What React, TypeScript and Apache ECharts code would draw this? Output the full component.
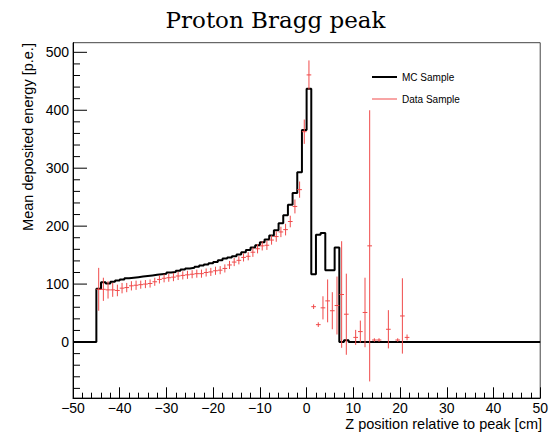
import React, { useEffect, useRef } from "react";
import * as echarts from "echarts";

// ---- axis ranges / tick labels ----
const X_MIN = -50;
const X_MAX = 50;
const Y_MIN = -96.6;
const Y_MAX = 516.6;
const yTickValues = [
  -80, -60, -40, -20, 0, 20, 40, 60, 80, 100, 120, 140, 160, 180, 200, 220, 240, 260, 280, 300,
  320, 340, 360, 380, 400, 420, 440, 460, 480, 500,
];
const yMajorLabels = [0, 100, 200, 300, 400, 500];

// ---- MC histogram: 1 cm bins from -50 to 50 ----
const mcValues = [
  0, 0, 0, 0, 0, // -50..-46
  92, 103, 101, 104, 106, 108, 110, 111, 112, 113, // -45..-36
  114, 115, 116, 117, 118, 120, 121, 123, 125, 127, // -35..-26
  128, 130, 132, 134, 136, 138, 141, 144, 146, 148, // -25..-16
  151, 155, 159, 163, 167, 172, 177, 184, 193, 205, // -15..-6
  219, 237, 257, 293, 366, // -5..-1
  437, 117, 185, 188, 124, 124, 163, 0, 3, 0, // 0..9
  0, 0, 0, 0, 0, 0, 0, 0, 0, 0, // 10..19
  0, 0, 0, 0, 0, 0, 0, 0, 0, 0, // 20..29
  0, 0, 0, 0, 0, 0, 0, 0, 0, 0, // 30..39
  0, 0, 0, 0, 0, 0, 0, 0, 0, 0, // 40..49
];

// ---- Data sample: bins -45..21 (low edges), values and errors ----
const dataValues = [
  91, 91, 90, 90, 89, 93, 94, 97, 98, 99, // -45..-36
  100, 101, 104, 108, 110, 111, 112, 114, 115, 116, // -35..-26
  117, 118, 118, 120, 121, 123, 124, 127, 133, 138, // -25..-16
  141, 146, 148, 155, 161, 166, 167, 176, 182, 190, // -15..-6
  194, 208, 234, 263, 363, // -5..-1
  461, 61, 30, 59, 71, 54, 63, 82, 48, null, // 0..9
  8, 18, 51, 166, 3.5, 3.5, null, 22, null, 3.5, 45, 8, // 10..21
];
const dataErrors = [
  37, 20, 15, 12, 10, 9, 8, 8, 8, 7,
  7, 7, 7, 7, 7, 7, 7, 7, 7, 7,
  7, 7, 7, 7, 7, 7, 7, 7, 7, 7,
  7, 7, 7, 8, 8, 8, 8, 8, 9, 9,
  10, 10, 12, 14, 21,
  25, 4, 4, 20, 37, 32, 50, 92, 70, null,
  13, 19, 60, 234, 3, 3, null, 33, null, 3, 65, 5,
];
const DATA_FIRST_BIN = -45;

const RED = "#f04a4a";
const SANS = "Liberation Sans";

export default function App() {
  const ref = useRef<HTMLDivElement>(null);

  useEffect(() => {
    if (!ref.current) return;
    const chart = echarts.init(ref.current, undefined, { renderer: "svg" });

    const mcPoints: number[][] = mcValues.map((v, i) => [X_MIN + i, v]);
    mcPoints.push([X_MAX, mcValues[mcValues.length - 1]]);

    const dataPoints: number[][] = [];
    dataValues.forEach((v, i) => {
      if (v !== null && dataErrors[i] !== null) {
        dataPoints.push([DATA_FIRST_BIN + i, v as number, dataErrors[i] as number]);
      }
    });

    const fmt = (v: number) => (v < 0 ? "\u2212" + Math.abs(v) : String(v));

    chart.setOption({
      animation: false,
      backgroundColor: "#fff",
      title: {
        text: "Proton Bragg peak",
        left: "center",
        top: 3,
        textStyle: { fontFamily: "DejaVu Serif", fontSize: 23, fontWeight: "normal", color: "#000" },
      },
      legend: [
        {
          data: [{ name: "MC Sample", icon: "rect" }],
          left: 372,
          top: 71,
          padding: 0,
          itemWidth: 25,
          itemHeight: 2,
          selectedMode: false,
          textStyle: { fontFamily: SANS, fontSize: 10, color: "#000", lineHeight: 12 },
        },
        {
          data: [{ name: "Data Sample", icon: "rect" }],
          left: 372,
          top: 93,
          padding: 0,
          itemWidth: 25,
          itemHeight: 1,
          selectedMode: false,
          textStyle: { fontFamily: SANS, fontSize: 10, color: "#000", lineHeight: 12 },
        },
      ],
      grid: { left: 73, right: 9, top: 42.7, bottom: 36, show: true, borderColor: "#444", borderWidth: 1 },
      xAxis: {
        type: "value",
        min: X_MIN,
        max: X_MAX,
        interval: 10,
        axisLine: { onZero: false, lineStyle: { color: "#000", width: 1 } },
        axisTick: { inside: true, length: 10.7, lineStyle: { color: "#000" } },
        minorTick: { show: true, splitNumber: 5, length: 5.3, lineStyle: { color: "#000" } },
        axisLabel: { margin: 3, fontSize: 14, lineHeight: 14, fontFamily: SANS, color: "#000", formatter: fmt },
        splitLine: { show: false },
      },
      yAxis: {
        type: "value",
        min: Y_MIN,
        max: Y_MAX,
        axisLine: { show: true, onZero: false, lineStyle: { color: "#000", width: 1 } },
        axisTick: { show: false },
        axisLabel: { show: false },
        splitLine: { show: false },
      },
      graphic: [
        {
          type: "text",
          x: 28,
          y: 137,
          rotation: Math.PI / 2,
          style: {
            text: "Mean deposited energy [p.e.]",
            align: "center",
            verticalAlign: "middle",
            fontSize: 14.5,
            fontFamily: SANS,
            fill: "#000",
          },
        },
        {
          type: "text",
          x: 542,
          y: 424,
          style: {
            text: "Z position relative to peak [cm]",
            align: "right",
            verticalAlign: "middle",
            fontSize: 14.5,
            lineHeight: 14,
            fontFamily: SANS,
            fill: "#000",
          },
        },
      ],
      series: [
        {
          name: "MC Sample",
          type: "line",
          step: "end",
          data: mcPoints,
          showSymbol: false,
          symbol: "none",
          color: "#000",
          itemStyle: { color: "#000" },
          lineStyle: { color: "#000", width: 2 },
          z: 3,
        },
        {
          name: "Data Sample",
          type: "custom",
          data: dataPoints,
          encode: { x: 0, y: 1 },
          color: RED,
          itemStyle: { color: RED },
          z: 4,
          renderItem: (_params: any, api: any) => {
            const lo = api.value(0);
            const v = api.value(1);
            const e = api.value(2);
            const l = api.coord([lo, v]);
            const r = api.coord([lo + 1, v]);
            const t = api.coord([lo + 0.5, v + e]);
            const b = api.coord([lo + 0.5, v - e]);
            return {
              type: "group",
              children: [
                { type: "line", shape: { x1: l[0], y1: l[1], x2: r[0], y2: r[1] }, style: { stroke: RED, lineWidth: 1 } },
                { type: "line", shape: { x1: t[0], y1: t[1], x2: b[0], y2: b[1] }, style: { stroke: RED, lineWidth: 1 } },
              ],
            };
          },
        },
        {
          name: "yTicks",
          type: "custom",
          data: yTickValues.map((v) => [X_MIN, v]),
          encode: { x: 0, y: 1 },
          silent: true,
          z: 5,
          renderItem: (_params: any, api: any) => {
            const v = api.value(1);
            const p = api.coord([X_MIN, v]);
            const major = yMajorLabels.indexOf(v) >= 0;
            const len = major ? 14 : 7;
            const children: any[] = [
              { type: "line", shape: { x1: p[0], y1: p[1], x2: p[0] + len, y2: p[1] }, style: { stroke: "#000", lineWidth: 1 } },
            ];
            if (major) {
              children.push({
                type: "text",
                style: {
                  text: String(v),
                  x: p[0] - 4,
                  y: p[1],
                  align: "right",
                  verticalAlign: "middle",
                  fontSize: 14,
                  fontFamily: SANS,
                  fill: "#000",
                },
              });
            }
            return { type: "group", children };
          },
        },
      ],
    });

    return () => chart.dispose();
  }, []);

  return <div ref={ref} style={{ position: "fixed", left: 0, top: 0, width: 551, height: 434 }} />;
}
